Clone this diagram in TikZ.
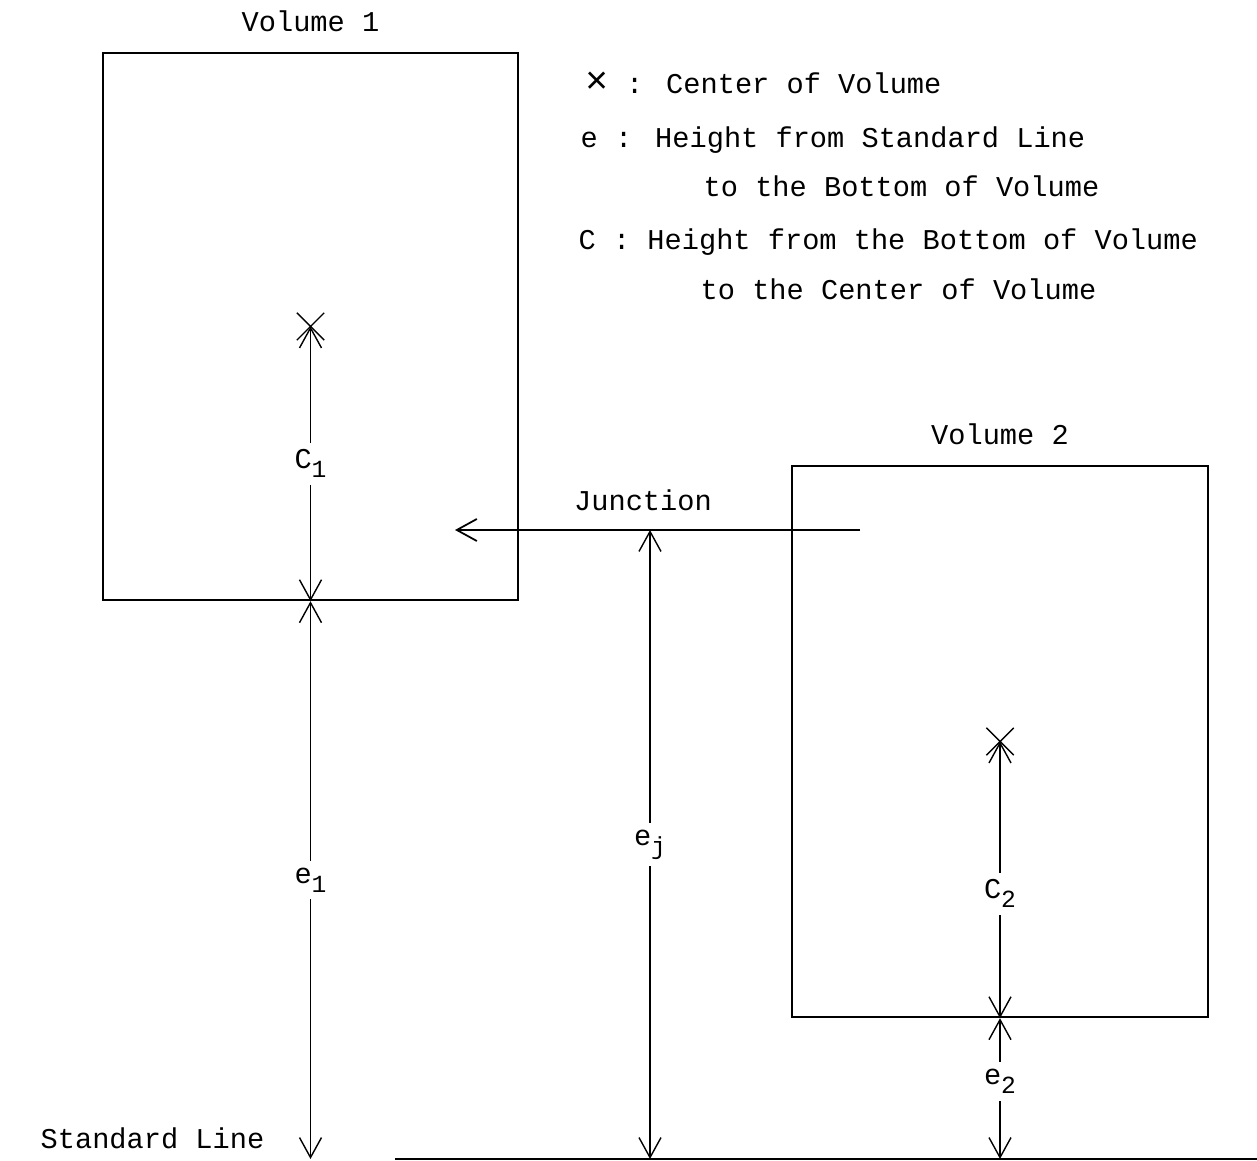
\documentclass[tikz,border=0pt]{standalone}
\usepackage{fontspec}
\setmainfont{Liberation Mono}
\usepackage{tikz}
\usetikzlibrary{positioning, arrows.meta, shapes.misc}

\newcommand{\lowsub}[1]{\raisebox{-0.6ex}{\fontsize{7pt}{8pt}\selectfont #1}}

\begin{document}
\begin{tikzpicture}[x=0.01cm, y=-0.01cm,
    font=\fontsize{8.15pt}{10pt}\selectfont,
    >={Straight Barb[length=2mm,width=2.2mm]},
    volbox/.style={draw, line width=0.6pt, minimum width=4.15cm, minimum height=5.47cm, inner sep=0pt},
    centermark/.style={cross out, draw, line width=0.4pt, minimum size=0.26cm, inner sep=0pt},
    dimline/.style={<->, line width=0.4pt},
    dimlabel/.style={midway, fill=white, inner sep=2pt}]
  \useasboundingbox (0,0) rectangle (1257,1161);

  % the two volumes
  \node[volbox] (vol1) at (310.5,326.5) {};
  \node[volbox, minimum width=4.16cm, minimum height=5.51cm] (vol2) at (1000,741.5) {};
  \node[above=0.08cm of vol1] (vol1lbl) {Volume 1};
  \node[above=0.08cm of vol2] (vol2lbl) {Volume 2};
  \node[centermark] (c1) at (vol1.center) {};
  \node[centermark] (c2) at (vol2.center) {};

  % legend
  \node[anchor=west, inner sep=0pt] (leg1) at (585,83) {{\fontsize{11pt}{10pt}\selectfont ×} : Center of Volume};
  \node[anchor=west, inner sep=0pt] (leg2) at (580,140) {e : Height from Standard Line};
  \node[anchor=west, inner sep=0pt] (leg3) at (703,186) {to the Bottom of Volume};
  \node[anchor=west, inner sep=0pt] (leg4) at (578,242) {C : Height from the Bottom of Volume};
  \node[anchor=west, inner sep=0pt] (leg5) at (700,289) {to the Center of Volume};

  % standard line
  \coordinate (stdL) at (395,1159);
  \coordinate (stdR) at (1257,1159);
  \draw[line width=0.6pt] (stdL) -- (stdR);
  \node[anchor=west, inner sep=0pt] (stdlbl) at (40,1138) {Standard Line};

  % junction
  \coordinate (jstart) at (860,530);
  \coordinate (jend) at (455,530);
  \coordinate (jfoot) at (650,530);
  \draw[->, line width=0.5pt] (jstart) -- (jend);
  \node (junclbl) at (643,500) {Junction};

  % heights
  \draw[dimline] (vol1.center) -- (vol1.south) node[dimlabel] (C1) {C\lowsub{1}};
  \draw[dimline] (vol1.south) -- (vol1.south |- stdL) node[dimlabel] (e1) {e\lowsub{1}};
  \draw[dimline] (jfoot) -- (jfoot |- stdL) node[dimlabel] (ej) {e\lowsub{j}};
  \draw[dimline] (vol2.center) -- (vol2.south) node[dimlabel, pos=0.55] (C2) {C\lowsub{2}};
  \draw[dimline] (vol2.south) -- (vol2.south |- stdL) node[dimlabel, pos=0.45] (e2) {e\lowsub{2}};
\end{tikzpicture}
\end{document}
